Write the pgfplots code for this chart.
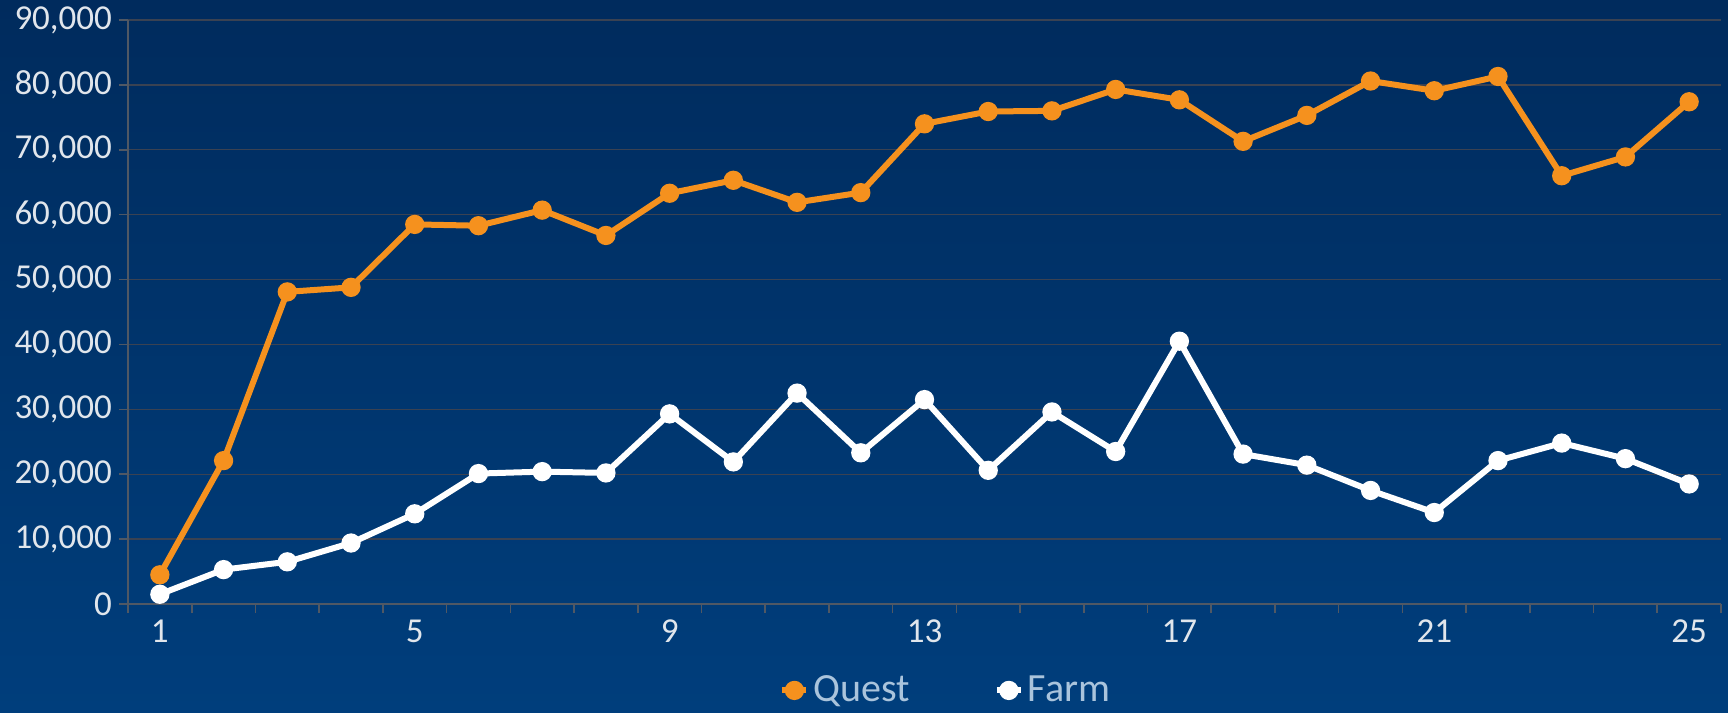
\documentclass[border=0pt]{standalone}
\usepackage{fontspec}
\setmainfont{Carlito}
\usepackage{pgfplots}
\pgfplotsset{compat=1.18}
\definecolor{bgtop}{RGB}{0,43,93}
\definecolor{bgbot}{RGB}{0,62,124}
\definecolor{questc}{RGB}{245,145,30}
\definecolor{gridc}{RGB}{58,66,82}
\definecolor{axc}{RGB}{80,88,100}
\definecolor{txtc}{RGB}{225,230,236}
\definecolor{legc}{RGB}{170,196,220}
\begin{document}
\begin{tikzpicture}
\fill[top color=bgtop,bottom color=bgbot] (-64pt,-54pt) rectangle (800pt,302pt);
\begin{axis}[scale only axis, width=796.5pt, height=292pt,
  xmin=0.5, xmax=25.5, ymin=0, ymax=90000,
  axis x line*=bottom, axis y line*=left,
  axis line style={-, draw=axc, line width=0.8pt},
  xtick={1,5,9,13,17,21,25},
  minor xtick={0.5,1.5,...,25.5},
  major x tick style={draw=none},
  minor x tick style={draw=axc, line width=0.8pt},
  minor tick length=4.5pt,
  ytick={0,10000,...,90000},
  y tick style={draw=axc, line width=0.8pt},
  major tick length=4.5pt,
  tick align=outside,
  ymajorgrids, grid style={gridc, line width=0.7pt},
  scaled y ticks=false,
  yticklabel style={/pgf/number format/.cd, fixed, 1000 sep={,}, assume math mode=true},
  xticklabel style={/pgf/number format/assume math mode=true},
  tick label style={font=\fontsize{17.5}{20}\selectfont, text=txtc},
  legend style={at={(0.514,-0.148)}, anchor=center, draw=none, fill=none,
    font=\fontsize{20}{22}\selectfont, text=legc,
    /tikz/every even column/.append style={column sep=40pt}},
  legend columns=2,
  legend image code/.code={\draw[mark repeat=2,mark phase=2,#1] plot coordinates {(-6pt,0pt) (0pt,0pt) (6pt,0pt)};},
]
\addplot[questc, line width=3pt, mark=*, mark size=3.3pt, mark options={fill=questc, draw=questc}] coordinates {
(1,4500) (2,22100) (3,48100) (4,48800) (5,58500) (6,58300) (7,60700) (8,56800)
(9,63300) (10,65300) (11,61900) (12,63400) (13,74000) (14,75900) (15,76000)
(16,79300) (17,77700) (18,71300) (19,75300) (20,80600) (21,79100) (22,81300)
(23,66000) (24,68900) (25,77400)};
\addlegendentry{Quest}
\addplot[white, line width=3pt, mark=*, mark size=3.3pt, mark options={fill=white, draw=white}] coordinates {
(1,1500) (2,5300) (3,6500) (4,9400) (5,13900) (6,20100) (7,20400) (8,20200)
(9,29300) (10,21900) (11,32500) (12,23300) (13,31500) (14,20600) (15,29600)
(16,23500) (17,40500) (18,23100) (19,21400) (20,17500) (21,14100) (22,22100)
(23,24800) (24,22400) (25,18500)};
\addlegendentry{Farm}
\end{axis}
\pgfresetboundingbox
\path (-64pt,-54pt) rectangle (800pt,302pt);
\end{tikzpicture}
\end{document}
